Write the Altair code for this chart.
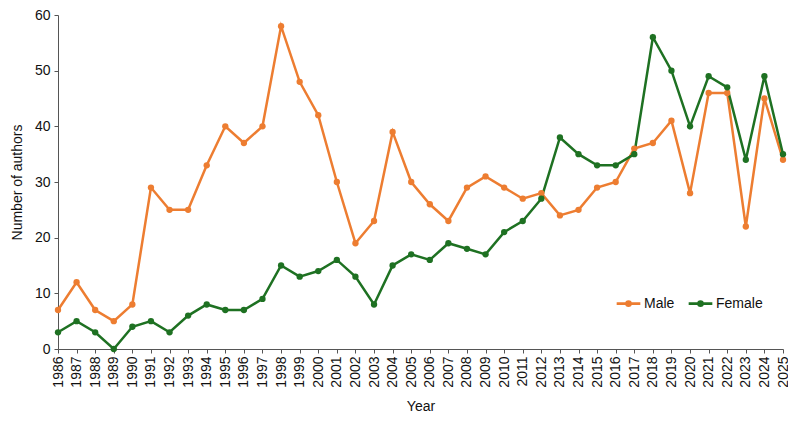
import altair as alt
import pandas as pd

years = [str(y) for y in range(1986, 2026)]
male = [7, 12, 7, 5, 8, 29, 25, 25, 33, 40, 37, 40, 58, 48, 42, 30, 19, 23, 39, 30,
        26, 23, 29, 31, 29, 27, 28, 24, 25, 29, 30, 36, 37, 41, 28, 46, 46, 22, 45, 34]
female = [3, 5, 3, 0, 4, 5, 3, 6, 8, 7, 7, 9, 15, 13, 14, 16, 13, 8, 15, 17,
          16, 19, 18, 17, 21, 23, 27, 38, 35, 33, 33, 35, 56, 50, 40, 49, 47, 34, 49, 35]
series = ["Male", "Female"]
colors = ["#ED7D31", "#1E7122"]

rows = []
for name, vals in zip(series, [male, female]):
    for y, v in zip(years, vals):
        rows.append({"Year": y, "Authors": v, "Gender": name})
df = pd.DataFrame(rows)

FONT = "Liberation Sans"

color = alt.Color(
    "Gender:N",
    scale=alt.Scale(domain=series, range=colors),
    legend=alt.Legend(
        title=None,
        orient="none",
        legendX=557,
        legendY=275,
        direction="horizontal",
        symbolType="M-1,0H1M0.17,0A0.17,0.17 0 1,1 -0.17,0A0.17,0.17 0 1,1 0.17,0",
        symbolSize=560,
        symbolStrokeWidth=2.6,
        labelFontSize=14,
        labelFont=FONT,
        labelColor="#111111",
        columnPadding=8,
        labelOffset=2,
    ),
)

base = alt.Chart(df).encode(
    x=alt.X(
        "Year:O",
        scale=alt.Scale(type="point", padding=0),
        axis=alt.Axis(
            title="Year",
            titleFont=FONT,
            titleFontSize=14,
            titleFontWeight="normal",
            titleColor="#111111",
            titlePadding=12,
            labelAngle=-90,
            labelAlign="right",
            labelBaseline="middle",
            labelFont=FONT,
            labelFontSize=14,
            labelColor="#111111",
            labelPadding=3,
            tickSize=4,
            domainColor="#555555",
            tickColor="#555555",
            grid=False,
        ),
    ),
    y=alt.Y(
        "Authors:Q",
        scale=alt.Scale(domain=[0, 60], nice=False),
        axis=alt.Axis(
            title="Number of authors",
            titleFont=FONT,
            titleFontSize=14,
            titleFontWeight="normal",
            titleColor="#111111",
            titlePadding=10,
            values=[0, 10, 20, 30, 40, 50, 60],
            labelFont=FONT,
            labelFontSize=14,
            labelColor="#111111",
            labelPadding=4,
            tickSize=4,
            domainColor="#555555",
            tickColor="#555555",
            grid=False,
        ),
    ),
    color=color,
    order=alt.Order("Year:O"),
)

lines = base.mark_line(strokeWidth=2.5)
points = base.mark_circle(size=40, opacity=1)

chart = (
    alt.layer(lines, points)
    .properties(
        width=725,
        height=334,
        padding={"left": 50, "top": 7, "right": 5, "bottom": 66},
        autosize=alt.AutoSizeParams(type="none"),
        view=alt.ViewBackground(stroke="transparent", strokeWidth=0),
    )
    .configure_axis(grid=False)
    .configure(background="white")
)

chart.save("out.html", embed_options={"renderer": "svg", "actions": False})
